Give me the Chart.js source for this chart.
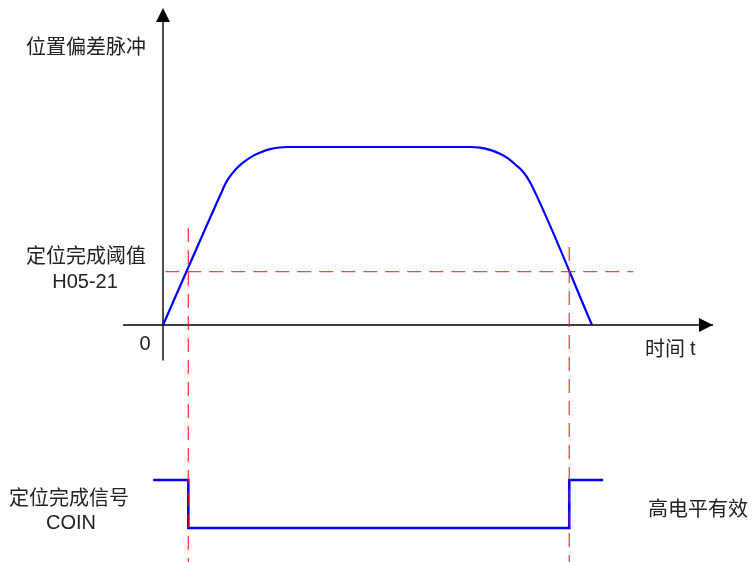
<!DOCTYPE html>
<html>
<head>
<meta charset="utf-8">
<script src="https://cdn.jsdelivr.net/npm/chart.js@4"></script>
<style>
  body { margin: 0; background: #fff; }
</style>
</head>
<body>
<canvas id="myChart" width="755" height="562"></canvas>
<script>
// position deviation pulses over time
const curveT = [0, 1.396, 1.469, 1.562, 1.678, 1.795, 1.935, 2.098, 2.284, 2.494, 2.704, 2.9,
  7.163, 7.389, 7.622, 7.855, 8.042, 8.205, 8.345, 8.485, 8.627, 10.0];
const curveY = [0, 76.3, 80.1, 83.5, 87.0, 89.8, 92.5, 95.0, 97.1, 98.8, 99.7, 100,
  100, 99.6, 98.4, 96.2, 93.6, 90.3, 87.4, 83.1, 76.9, 0];

// positioning complete threshold H05-21
const threshold = 30;
const thresholdT = [0.05, 10.96];

// COIN output (1 = high, 0 = low)
const coinT = [-0.23, 0.59, 9.47, 10.26];
const coinLevel = [1, 0, 1, 1];

// where the deviation crosses the threshold
const markT = [0.59, 9.47];
const markTop = [54.5, 43.8];

// axes
const xAxisRange = [-0.93, 12.82];
const yAxisRange = [-20, 177];

const ctxEl = document.getElementById("myChart");

const pts = (xs, ys) => xs.map((v, i) => ({ x: v, y: ys[i] }));

const redDash = {
  borderColor: "rgba(255,0,0,0.75)",
  borderWidth: 1.3,
  borderDash: [14, 8],
  pointRadius: 0,
  order: 0
};

const datasets = [
  Object.assign({ data: pts(thresholdT, [threshold, threshold]) }, redDash),
  Object.assign({ data: pts([markT[0], markT[0]], [markTop[0], -133.15]) }, redDash),
  Object.assign({ data: pts([markT[1], markT[1]], [markTop[1], -133.15]) }, redDash),
  {
    data: pts(curveT, curveY),
    borderColor: "#0000ff",
    borderWidth: 2.2,
    cubicInterpolationMode: "monotone",
    pointRadius: 0,
    order: 1
  },
  {
    data: pts(coinT, coinLevel),
    yAxisID: "y2",
    stepped: true,
    borderColor: "#0000ff",
    borderWidth: 2.6,
    pointRadius: 0,
    order: 1
  },
  {
    data: pts(xAxisRange, [0, 0]),
    borderColor: "#000",
    borderWidth: 1.4,
    pointRadius: 0,
    order: 2
  },
  {
    data: pts([0, 0], yAxisRange),
    borderColor: "#000",
    borderWidth: 1.4,
    pointRadius: 0,
    order: 2
  }
];

const decorations = {
  id: "decorations",
  afterDraw(chart) {
    const ctx = chart.ctx;
    const sx = chart.scales.x, sy = chart.scales.y, sy2 = chart.scales.y2;
    const ox = sx.getPixelForValue(0);
    const oy = sy.getPixelForValue(0);

    // arrow heads
    ctx.save();
    ctx.fillStyle = "#000";
    const topY = sy.getPixelForValue(yAxisRange[1]);
    ctx.beginPath();
    ctx.moveTo(ox, topY - 2);
    ctx.lineTo(ox - 7, topY + 12);
    ctx.lineTo(ox + 7, topY + 12);
    ctx.closePath();
    ctx.fill();
    const endX = sx.getPixelForValue(xAxisRange[1]);
    ctx.beginPath();
    ctx.moveTo(endX, oy);
    ctx.lineTo(endX - 14, oy - 7);
    ctx.lineTo(endX - 14, oy + 7);
    ctx.closePath();
    ctx.fill();

    // texts
    const cjk = "20px 'Noto Sans CJK SC', sans-serif";
    const latin = "20px 'Liberation Sans', Arial, sans-serif";
    ctx.fillStyle = "#222";
    ctx.textBaseline = "middle";
    ctx.textAlign = "center";

    ctx.font = cjk;
    ctx.fillText("位置偏差脉冲", ox - 77, 46);
    const thY = sy.getPixelForValue(threshold);
    ctx.fillText("定位完成阈值", ox - 77, thY - 16);
    ctx.font = latin;
    ctx.fillText("H05-21", ox - 78, thY + 11);
    ctx.fillText("0", ox - 18, oy + 19);

    ctx.textAlign = "left";
    ctx.font = cjk;
    ctx.fillText("时间", endX - 68, oy + 23);
    ctx.font = latin;
    ctx.fillText("t", endX - 23, oy + 24);

    const hiY = sy2.getPixelForValue(1);
    const loY = sy2.getPixelForValue(0);
    ctx.textAlign = "center";
    ctx.font = cjk;
    ctx.fillText("定位完成信号", 69, hiY + 17);
    ctx.font = latin;
    ctx.fillText("COIN", 71, hiY + 43);
    ctx.textAlign = "left";
    ctx.font = cjk;
    ctx.fillText("高电平有效", 648, (hiY + loY) / 2 + 4);
    ctx.restore();
  }
};

const chart = new Chart(ctxEl, {
  type: "line",
  data: { datasets: datasets },
  options: {
    responsive: false,
    animation: false,
    layout: { padding: 0 },
    plugins: { legend: { display: false }, tooltip: { enabled: false } },
    scales: {
      x: { type: "linear", min: -3.8, max: 13.8, display: false },
      y: { min: -133.15, max: 182.58, display: false },
      y2: { min: -0.708, max: 11, display: false }
    }
  },
  plugins: [decorations]
});
</script>
</body>
</html>
